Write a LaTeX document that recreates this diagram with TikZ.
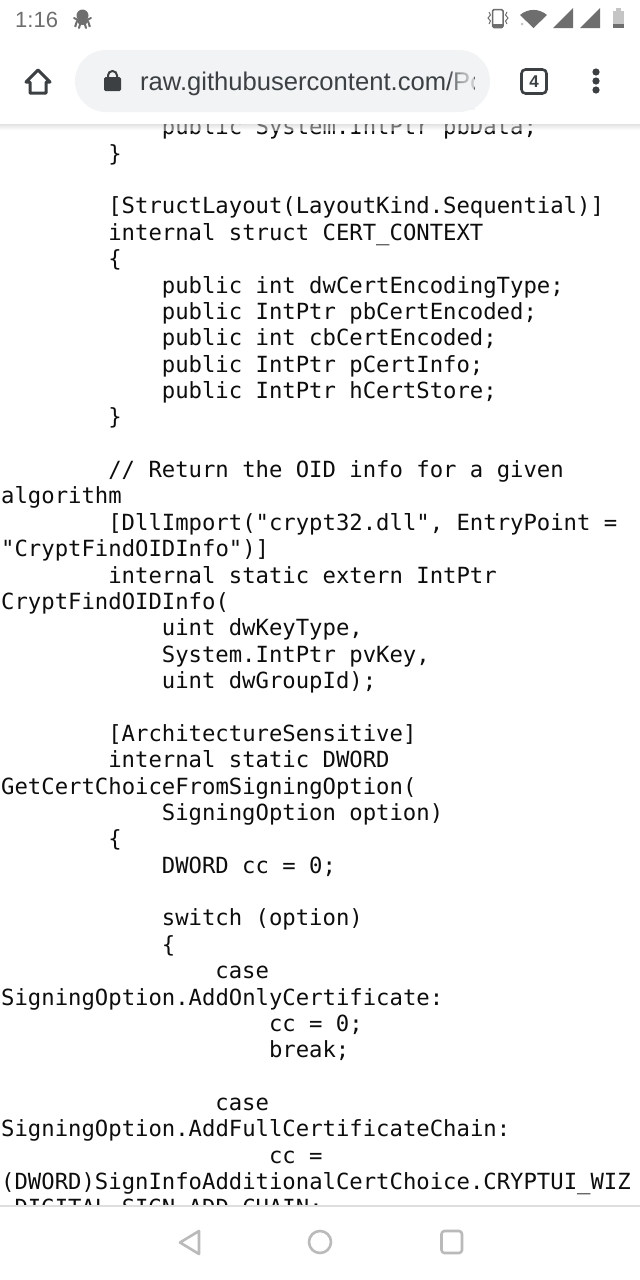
\documentclass[tikz,border=0pt]{standalone}
\usepackage{fontspec}
\setmainfont{Liberation Sans}
\setmonofont{DejaVu Sans Mono}
\usetikzlibrary{positioning}
\definecolor{inkgray}{HTML}{3C4043}
\definecolor{pillgray}{HTML}{F1F3F4}
\definecolor{statgray}{HTML}{6E6E6E}
\definecolor{navgray}{HTML}{BABABA}
\tikzset{
  codeline/.style={anchor=base west,inner sep=0pt,font=\ttfamily\fontsize{22.25}{26}\selectfont,text=black!95},
  navicon/.style={draw=navgray,line width=2.6pt,line join=round},
  staticon/.style={fill=statgray,draw=none}
}

\begin{document}
\begin{tikzpicture}[x=1pt,y=-1pt]
\useasboundingbox (0,0) rectangle (640,1280);
\fill[white] (0,0) rectangle (640,1280);

% page text
\foreach \row/\col/\txt in {
  0/12/{public System.IntPtr pbData;},
  1/8/{\}},
  3/8/{[StructLayout(LayoutKind.Sequential)]},
  4/8/{internal struct CERT\_CONTEXT},
  5/8/{\{},
  6/12/{public int dwCertEncodingType;},
  7/12/{public IntPtr pbCertEncoded;},
  8/12/{public int cbCertEncoded;},
  9/12/{public IntPtr pCertInfo;},
  10/12/{public IntPtr hCertStore;},
  11/8/{\}},
  13/8/{// Return the OID info for a given},
  14/0/{algorithm},
  15/8/{[DllImport("crypt32.dll", EntryPoint =},
  16/0/{"CryptFindOIDInfo")]},
  17/8/{internal static extern IntPtr},
  18/0/{CryptFindOIDInfo(},
  19/12/{uint dwKeyType,},
  20/12/{System.IntPtr pvKey,},
  21/12/{uint dwGroupId);},
  23/8/{[ArchitectureSensitive]},
  24/8/{internal static DWORD},
  25/0/{GetCertChoiceFromSigningOption(},
  26/12/{SigningOption option)},
  27/8/{\{},
  28/12/{DWORD cc = 0;},
  30/12/{switch (option)},
  31/12/{\{},
  32/16/{case},
  33/0/{SigningOption.AddOnlyCertificate:},
  34/20/{cc = 0;},
  35/20/{break;},
  37/16/{case},
  38/0/{SigningOption.AddFullCertificateChain:},
  39/20/{cc =},
  40/0/{(DWORD)SignInfoAdditionalCertChoice.CRYPTUI\_WIZ},
  41/0/{\_DIGITAL\_SIGN\_ADD\_CHAIN;}}
  \node[codeline] (line\row) at ({1+13.39*\col},{134.8+26.37*\row}) {\txt};

% bottom bar
\fill[white] (0,1206) rectangle (640,1280);
\draw[black!13,line width=1.5pt] (0,1206) -- (640,1206);
\draw[navicon] (199,1231) -- (180,1242.5) -- (199,1254) -- cycle;
\draw[navicon] (320,1242) circle[radius=11pt];
\draw[navicon,rounded corners=3pt] (441.5,1231) rectangle (462,1253);

% top bar
\shade[top color=black!22,bottom color=black!0,opacity=0.5] (0,124) rectangle (640,130);
\fill[white] (0,0) rectangle (640,124);
\node[anchor=base west,inner sep=0pt,text=statgray,font=\fontsize{22}{24}\selectfont] (clock) at (15,27.5) {1:16};

% octopus
\fill[statgray] (82.5,15.5) ellipse (6pt and 6pt);
\fill[statgray] (82.5,22) ellipse (5pt and 3pt);
\draw[statgray,line width=2pt,line cap=round]
  (78,20) to[out=180,in=0] (74,18)
  (78,21) to[out=160,in=-70] (75,26)
  (81,21) -- (79,28)
  (84,21) -- (86,28)
  (87,21) to[out=20,in=-110] (90,26)
  (87,20) to[out=0,in=180] (91,18);

% status icons
\draw[statgray,line width=1.5pt,rounded corners=1.5pt] (492.5,9.5) rectangle (503,27.5);
\fill[statgray] (492.5,23.5) rectangle (503,27.5);
\draw[statgray,line width=1pt] (489,12) -- (490.5,15) -- (488,18) -- (490.5,21) -- (489,24);
\draw[statgray,line width=1pt] (507,12) -- (505.5,15) -- (508,18) -- (505.5,21) -- (507,24);
\fill[statgray] (520,15) to[out=40,in=140] (547,15) -- (533.5,28) -- cycle;
\fill[statgray!40] (522,24) circle[radius=1.5pt];
\fill[statgray] (573,8) -- (573,28) -- (553,28) -- cycle;
\fill[statgray] (600,8) -- (600,28) -- (580,28) -- cycle;
\fill[statgray!40] (612.5,11) rectangle (624,24);
\fill[statgray!40] (616,8) rectangle (620.5,11);
\fill[statgray] (612.5,24) rectangle (624,28);

% address bar
\fill[pillgray,rounded corners=31pt] (75,50) rectangle (490,112);
\draw[inkgray,line width=3pt,line join=round] (38,70) -- (50,82) -- (46,82) -- (46,93) -- (30,93) -- (30,82) -- (26,82) -- cycle;
\fill[inkgray,rounded corners=1.5pt] (104,77) rectangle (121,91);
\draw[inkgray,line width=2pt] (108,78) -- (108,75.5) arc[start angle=180,end angle=0,radius=4.5pt] -- (117,78);
\begin{scope}
\clip (130,55) rectangle (474,110);
\node[anchor=base west,inner sep=0pt,text=inkgray,font=\fontsize{25.6}{28}\selectfont] (url) at (140,90.5) {raw.githubusercontent.com/Pc};
\foreach \i in {0,...,9}
  \fill[pillgray,opacity=0.14] ({450+2.4*\i},55) rectangle (476,110);
\end{scope}
\node[draw=inkgray,line width=2.6pt,rounded corners=4pt,minimum width=25pt,minimum height=24pt,inner sep=0pt,text=inkgray,font=\bfseries\fontsize{17}{18}\selectfont] (tabs) at (534,81.5) {4};
\foreach \dy in {72,81,90}
  \fill[inkgray] (596,\dy) circle[radius=3.6pt];

\end{tikzpicture}
\end{document}
